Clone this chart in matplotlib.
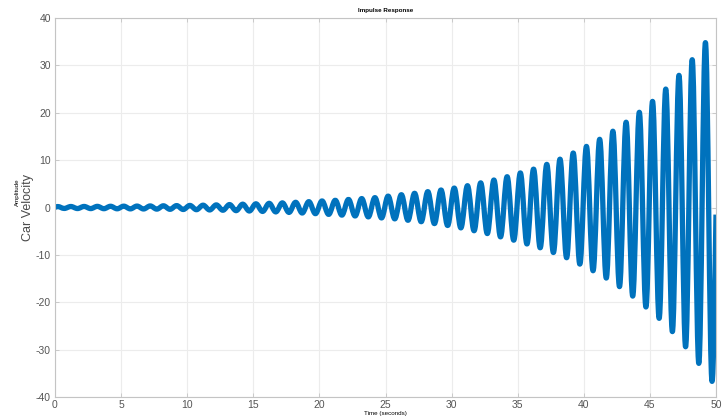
import numpy as np
import matplotlib.pyplot as plt
from matplotlib.path import Path
from matplotlib.patches import PathPatch

plt.rcParams['font.family'] = ['Liberation Sans', 'DejaVu Sans']
plt.rcParams['axes.unicode_minus'] = False

# Values: one peak and one trough per 1 s cycle
cycle_start = np.arange(50)          # seconds, one cycle per second
peak_phase = 0.2                     # peak at t = k + 0.2
trough_phase = 0.7                   # trough at t = k + 0.7

peaks = [0.20, 0.21, 0.22, 0.24, 0.26, 0.28, 0.30, 0.33, 0.36, 0.40,
         0.44, 0.49, 0.55, 0.62, 0.70, 0.78, 0.88, 0.98, 1.10, 1.23,
         1.38, 1.52, 1.70, 1.88, 2.08, 2.40, 2.70, 3.00, 3.35, 3.70,
         4.10, 4.60, 5.20, 5.80, 6.50, 7.30, 8.10, 9.10, 10.2, 11.5,
         12.9, 14.4, 16.1, 18.0, 20.1, 22.4, 25.0, 27.9, 31.2, 34.8]
troughs = [-0.20, -0.22, -0.23, -0.25, -0.27, -0.29, -0.31, -0.34, -0.38, -0.42,
           -0.46, -0.52, -0.58, -0.66, -0.74, -0.83, -0.93, -1.04, -1.16, -1.30,
           -1.45, -1.61, -1.79, -1.98, -2.20, -2.40, -2.70, -3.00, -3.40, -3.80,
           -4.30, -4.90, -5.50, -6.20, -6.90, -7.70, -8.50, -9.50, -10.6, -11.95,
           -13.35, -14.9, -16.7, -18.7, -21.0, -23.4, -26.2, -29.4, -32.9, -36.7]
start_value = 0.0
end_value = -1.5

# Extreme points of the response, in time order
t = [0.0]
y = [start_value]
for k, p, tr in zip(cycle_start, peaks, troughs):
    t += [k + peak_phase, k + trough_phase]
    y += [p, tr]
t.append(50.0)
y.append(end_value)

# Join the extremes with smooth cubic segments (flat at each peak/trough)
verts = [(t[0], y[0])]
codes = [Path.MOVETO]
for i in range(1, len(t)):
    dt = t[i] - t[i - 1]
    first = i == 1
    last = i == len(t) - 1
    c1 = (t[i - 1] + 0.36 * dt, y[i - 1] if not first else y[i - 1] + 0.5 * (y[i] - y[i - 1]))
    c2 = (t[i] - 0.36 * dt, y[i] if not last else y[i] - 0.5 * (y[i] - y[i - 1]))
    verts += [c1, c2, (t[i], y[i])]
    codes += [Path.CURVE4] * 3

fig = plt.figure(figsize=(7.28, 4.16), dpi=100)
ax = fig.add_axes([55 / 728, 1 - 397 / 416, 661 / 728, 379 / 416])

ax.add_patch(PathPatch(Path(verts, codes), facecolor='none', edgecolor='#0072BD',
                       linewidth=3.8, joinstyle='round', capstyle='butt'))

ax.set_xlim(0, 50)
ax.set_ylim(-40, 40)
ax.set_xticks(np.arange(0, 51, 5))
ax.set_yticks(np.arange(-40, 41, 10))

# MATLAB-like box, grid and inward ticks
ax.grid(True, color='#ececec', linewidth=0.8)
ax.set_axisbelow(True)
for s in ax.spines.values():
    s.set_color('#c4c4c4')
    s.set_linewidth(0.8)
ax.tick_params(direction='in', length=3, width=0.6, color='#c4c4c4',
               top=True, right=True, labelsize=7.5, labelcolor='#555555',
               pad=3)
ax.tick_params(axis='x', pad=2)

ax.set_title('Impulse Response', fontsize=4.5, fontweight='bold', pad=4)
ax.set_xlabel('Time (seconds)', fontsize=4.5, va='center')
ax.xaxis.set_label_coords(0.5, -(413 - 397) / 379)
ax.set_ylabel('Car Velocity', fontsize=9, color='#4a4a4a', va='center')
ax.yaxis.set_label_coords(-(55 - 28) / 661, 0.5)
fig.text(17 / 728, 1 - 192 / 416, 'Amplitude', rotation=90, fontsize=4.5,
         ha='center', va='center')

fig.savefig('out.png', dpi=100)
